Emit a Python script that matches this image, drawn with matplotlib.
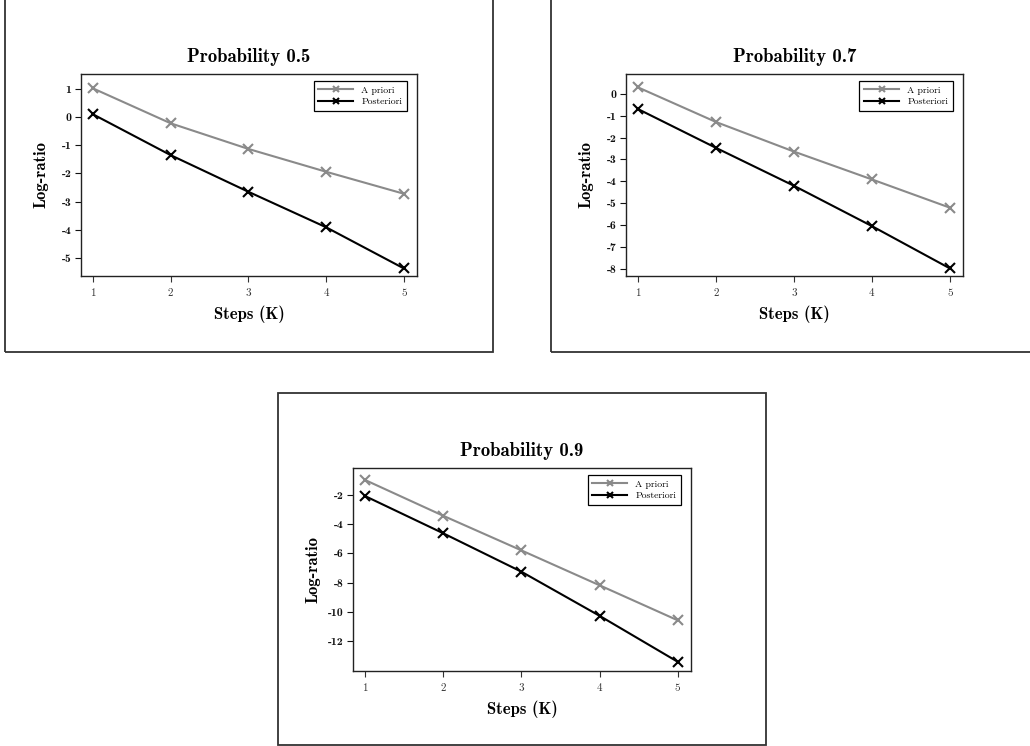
import matplotlib
matplotlib.use("Agg")
import matplotlib.pyplot as plt
from matplotlib.patches import Rectangle
from matplotlib.ticker import FuncFormatter

plt.rcParams['axes.unicode_minus'] = False

steps = [1, 2, 3, 4, 5]
titles = ['Probability 0.5', 'Probability 0.7', 'Probability 0.9']
apriori = [
    [1.02, -0.22, -1.13, -1.94, -2.72],
    [0.29, -1.29, -2.64, -3.91, -5.20],
    [-0.97, -3.42, -5.79, -8.18, -10.58],
]
posteriori = [
    [0.10, -1.35, -2.65, -3.91, -5.37],
    [-0.70, -2.47, -4.20, -6.04, -7.97],
    [-2.07, -4.62, -7.25, -10.27, -13.42],
]
yticks = [
    [1, 0, -1, -2, -3, -4, -5],
    [0, -1, -2, -3, -4, -5, -6, -7, -8],
    [-2, -4, -6, -8, -10, -12],
]
ylims = [(-5.64, 1.53), (-8.32, 0.90), (-14.05, -0.15)]

W, H = 1030, 746
fig = plt.figure(figsize=(W / 100, H / 100), dpi=100)

# panel frames in pixels: x0, y0 (top), x1, y1 (bottom)
frames = [(5, -20, 493, 352), (551, -20, 1060, 352), (278, 393, 766, 745)]
for x0, y0, x1, y1 in frames:
    fig.patches.append(Rectangle((x0 / W, 1 - y1 / H), (x1 - x0) / W, (y1 - y0) / H,
                                 transform=fig.transFigure, fill=False,
                                 edgecolor='#333333', lw=1.3, clip_on=False))

# axes boxes in pixels: left, top, right, bottom
boxes = [(81, 74, 417, 276), (626, 74, 963, 276), (353, 468, 691, 671)]

grey = '#8a8a8a'
for i, (l, t, r, b) in enumerate(boxes):
    ax = fig.add_axes([l / W, 1 - b / H, (r - l) / W, (b - t) / H])
    ax.plot(steps, apriori[i], color=grey, lw=1.5, marker='x', ms=6.5, mew=1.5,
            label='A priori')
    ax.plot(steps, posteriori[i], color='black', lw=1.5, marker='x', ms=6.5, mew=1.5,
            label='Posteriori')
    ax.set_xlim(0.846, 5.17)
    ax.set_ylim(*ylims[i])
    ax.set_xticks(steps)
    ax.set_yticks(yticks[i])
    ax.yaxis.set_major_formatter(FuncFormatter(lambda v, p: '%d' % v))
    for lab in ax.get_yticklabels():
        lab.set_fontfamily('cmb10')
        lab.set_fontsize(8.5)
    for lab in ax.get_xticklabels():
        lab.set_fontfamily('cmr10')
        lab.set_fontsize(8)
    ax.tick_params(axis='x', length=4, width=0.8, pad=5, colors='#333333')
    ax.tick_params(axis='y', length=4, width=0.8, pad=3, colors='#111111')
    for s in ax.spines.values():
        s.set_linewidth(1.0)
        s.set_color('#222222')
    ax.set_title(titles[i], fontfamily='cmb10', fontsize=13.5, pad=9)
    ax.set_xlabel('Steps (K)', fontfamily='cmb10', fontsize=12, va='top')
    ax.xaxis.set_label_coords(0.5, -0.145)
    ax.set_ylabel('Log-ratio', fontfamily='cmb10', fontsize=12, va='center')
    ax.yaxis.set_label_coords(-0.12, 0.5)
    leg = ax.legend(loc='upper right',
                    bbox_to_anchor=(1 - 10 / (r - l), 1 - 7 / (b - t)),
                    borderaxespad=0, fancybox=False, edgecolor='black', framealpha=1,
                    prop={'family': 'cmr10', 'size': 7}, handlelength=3.6,
                    handletextpad=0.8, markerscale=0.6, numpoints=1,
                    borderpad=0.5, labelspacing=0.25)
    leg.get_frame().set_linewidth(0.9)

fig.savefig('out.png', dpi=100)
